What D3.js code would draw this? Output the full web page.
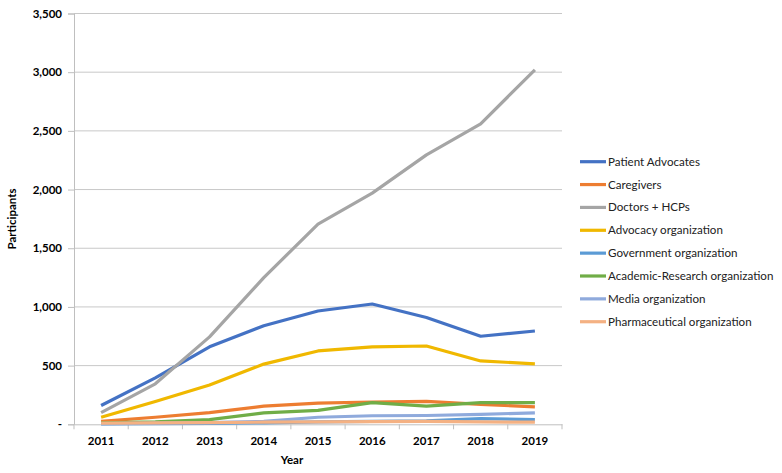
<!DOCTYPE html>
<html><head><meta charset="utf-8">
<script src="https://cdn.jsdelivr.net/npm/d3@7"></script>
<style>body{margin:0;background:#fff;}svg{display:block;}</style>
</head><body><svg id="c" width="782" height="473"></svg>
<script>
const years = ["2011","2012","2013","2014","2015","2016","2017","2018","2019"];
const seriesNames = ["Patient Advocates","Caregivers","Doctors + HCPs","Advocacy organization","Government organization","Academic-Research organization","Media organization","Pharmaceutical organization"];
const patientAdvocates = [160,395,660,840,965,1025,910,750,795];
const caregivers = [25,60,100,155,180,190,195,170,148];
const doctors = [100,345,745,1250,1705,1970,2295,2560,3020];
const advocacyOrg = [60,195,335,513,625,660,667,540,515];
const governmentOrg = [3,5,8,12,20,25,30,48,40];
const academicOrg = [12,20,40,97,118,185,155,185,185];
const mediaOrg = [5,10,15,25,60,73,75,85,98];
const pharmaOrg = [10,12,15,18,20,22,25,20,18];
const yTicks = [0,500,1000,1500,2000,2500,3000,3500];
const colors = ["#4472C4","#ED7D31","#A5A5A5","#F0B800","#5B9BD5","#70AD47","#8FAADC","#F4B183"];
const allSeries = [patientAdvocates,caregivers,doctors,advocacyOrg,governmentOrg,academicOrg,mediaOrg,pharmaOrg];

const svg = d3.select("#c");
const font = "Lato, 'Open Sans', sans-serif";
const L = 74, R = 562, T = 13.5, B = 424.3;
const x = d3.scaleBand().domain(years).range([L, R]);
const y = d3.scaleLinear().domain([0, 3500]).range([B, T]);

// gridlines
svg.append("g").selectAll("line").data(yTicks.filter(d=>d>0)).join("line")
  .attr("x1", L).attr("x2", R).attr("y1", d=>y(d)).attr("y2", d=>y(d))
  .attr("stroke", "#c8c8c8").attr("stroke-width", 1);

// y axis
const yAxis = d3.axisLeft(y).tickValues(yTicks).tickSize(6).tickPadding(6)
  .tickFormat(d => d === 0 ? "-" : d3.format(",")(d));
const gy = svg.append("g").attr("transform", `translate(${L},0)`).call(yAxis);
gy.select(".domain").attr("stroke", "#bfbfbf");
gy.selectAll(".tick line").attr("stroke", "#bfbfbf");
gy.selectAll("text").attr("font-family", font).attr("font-weight", "bold").attr("font-size", 11.5).attr("fill", "#000");

// x axis
const xAxis = d3.axisBottom(x).tickSize(0).tickPadding(13);
const gx = svg.append("g").attr("transform", `translate(0,${B})`).call(xAxis);
gx.select(".domain").attr("stroke", "#bfbfbf");
gx.selectAll("text").attr("font-family", font).attr("font-weight", "bold").attr("font-size", 11.5).attr("fill", "#000");
const bounds = years.map(d => x(d)).concat([R]);
gx.append("g").selectAll("line").data(bounds).join("line")
  .attr("x1", d=>d).attr("x2", d=>d).attr("y1", 0).attr("y2", 5).attr("stroke", "#bfbfbf");

// lines
const line = d3.line().x((d,i)=>x(years[i]) + x.bandwidth()/2).y(d=>y(d));
svg.append("g").selectAll("path").data(allSeries).join("path")
  .attr("d", d=>line(d)).attr("fill", "none")
  .attr("stroke", (d,i)=>colors[i]).attr("stroke-width", 3.2)
  .attr("stroke-linecap", "butt").attr("stroke-linejoin", "round");

// axis titles
svg.append("text").attr("x", 292).attr("y", 463.5).attr("text-anchor", "middle")
  .attr("font-family", font).attr("font-weight", "bold").attr("font-size", 11.5).text("Year");
svg.append("text").attr("transform", "translate(16,219) rotate(-90)").attr("text-anchor", "middle")
  .attr("font-family", font).attr("font-weight", "bold").attr("font-size", 11.5).text("Participants");

// legend
const lg = svg.append("g").selectAll("g").data(seriesNames).join("g")
  .attr("transform", (d,i)=>`translate(580,${161.7 + i*22.86})`);
lg.append("line").attr("x1", 0).attr("x2", 26).attr("y1", 0).attr("y2", 0)
  .attr("stroke", (d,i)=>colors[i]).attr("stroke-width", 3.2);
lg.append("text").attr("x", 28).attr("y", 0).attr("dy", "0.35em")
  .attr("font-family", font).attr("font-size", 11.6).attr("fill", "#222").text(d=>d);
</script></body></html>
